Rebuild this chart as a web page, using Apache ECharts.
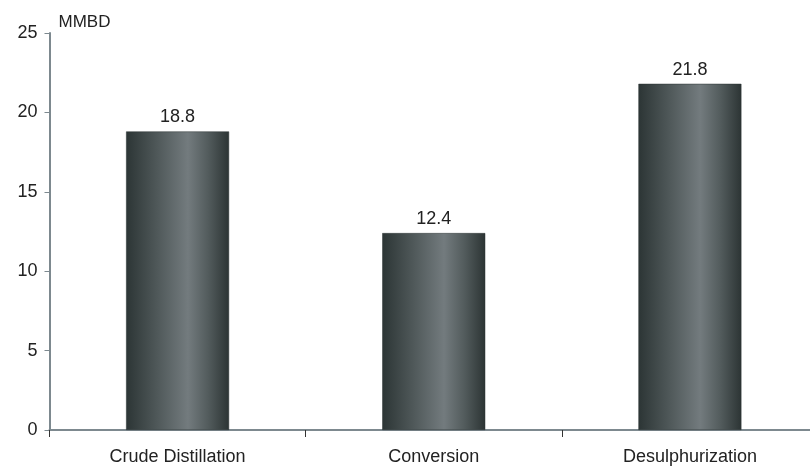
<!DOCTYPE html>
<html>
<head>
<meta charset="utf-8">
<script src="https://cdn.jsdelivr.net/npm/echarts@6/dist/echarts.min.js"></script>
<style>
  html, body { margin: 0; padding: 0; background: #fff; overflow: hidden; }
  #chart { width: 818px; height: 468px; }
</style>
</head>
<body>
<div id="chart"></div>
<script>
// Refining capacity by process type (million barrels per day)
const categories = ['Crude Distillation', 'Conversion', 'Desulphurization'];
const capacity = [18.8, 12.4, 21.8];
const yTicks = { min: 0, max: 25, interval: 5 };

const axisColor = '#7d898f';
const textFont = 'Liberation Sans, Arial, sans-serif';

// Cylindrical shading: dark edges, lighter band just right of centre
const barFill = new echarts.graphic.LinearGradient(0, 0, 1, 0, [
  { offset: 0, color: '#2c3535' },
  { offset: 0.3, color: '#4f5859' },
  { offset: 0.6, color: '#737b7e' },
  { offset: 0.8, color: '#525b5c' },
  { offset: 1, color: '#2c3434' }
]);

const chart = echarts.init(document.getElementById('chart'), null, { renderer: 'canvas' });
chart.setOption({
  animation: false,
  grid: { left: 49.5, right: 0, top: 33, bottom: 38, containLabel: false },
  xAxis: {
    type: 'category',
    data: categories,
    axisLine: { lineStyle: { color: axisColor, width: 2 } },
    axisTick: { show: true, alignWithLabel: false, length: 7, lineStyle: { color: '#333', width: 1 } },
    axisLabel: { color: '#222', fontFamily: textFont, fontSize: 18, margin: 18 },
    splitLine: { show: false }
  },
  yAxis: {
    type: 'value',
    min: yTicks.min,
    max: yTicks.max,
    interval: yTicks.interval,
    name: 'MMBD',
    nameLocation: 'end',
    nameGap: 2,
    nameTextStyle: { color: '#222', fontFamily: textFont, fontSize: 17, align: 'left', padding: [0, 0, 0, 9] },
    axisLine: { show: true, lineStyle: { color: axisColor, width: 2 } },
    axisTick: { show: true, length: 5, lineStyle: { color: axisColor, width: 1 } },
    axisLabel: { color: '#222', fontFamily: textFont, fontSize: 18, margin: 12 },
    splitLine: { show: false }
  },
  series: [{
    type: 'bar',
    data: capacity,
    barWidth: '40.2%',
    itemStyle: { color: barFill, borderColor: '#2a3232', borderWidth: 0.5 },
    label: {
      show: true,
      position: 'top',
      distance: 5,
      color: '#222',
      fontFamily: textFont,
      fontSize: 18,
      formatter: p => p.value.toFixed(1)
    }
  }]
});
</script>
</body>
</html>
